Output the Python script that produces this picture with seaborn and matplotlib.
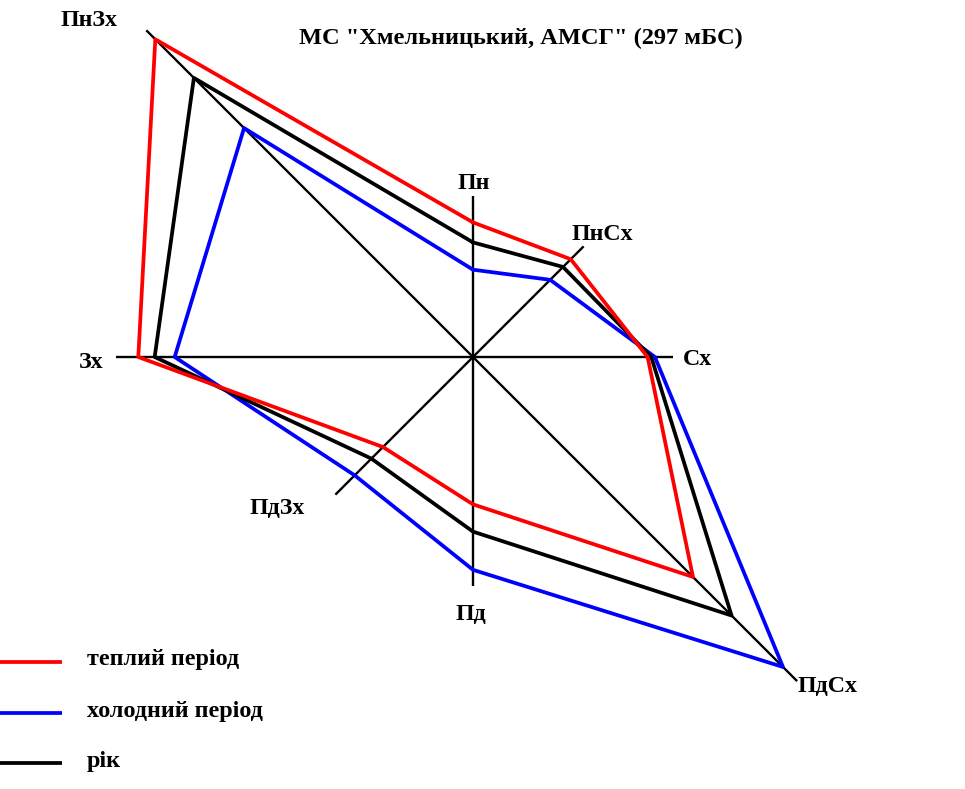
import numpy as np
import pandas as pd
import matplotlib.pyplot as plt
import seaborn as sns

# Wind rose data (% frequency by direction)
directions = ["Пн", "ПнСх", "Сх", "ПдСх", "Пд", "ПдЗх", "Зх", "ПнЗх"]
warm = [7.4, 7.6, 9.6, 17.1, 8.1, 7.0, 18.4, 24.7]
cold = [4.8, 6.0, 10.0, 24.1, 11.7, 9.2, 16.4, 17.8]
year = [6.3, 7.0, 9.8, 20.1, 9.6, 7.9, 17.5, 21.7]
series_names = ["теплий період", "холодний період", "рік"]
title = 'МС "Хмельницький, АМСГ" (297 мБС)'

# axis ray lengths (same units as the data)
axis_len = [8.85, 8.6, 11.0, 25.2, 12.6, 10.7, 19.6, 25.4]


def main():
    sns.set_theme(style="white")
    plt.rcParams['font.family'] = ['Liberation Serif', 'DejaVu Serif']
    plt.rcParams['font.weight'] = 'bold'

    W, H = 965, 789
    cx, cy = 473, 357      # rose centre, pixels
    scale = 18.19          # pixels per percent

    def px(x, y):
        return (x - cx) / scale, (cy - y) / scale

    fig = plt.figure(figsize=(W / 100, H / 100), dpi=100)
    ax = fig.add_axes([0, 0, 1, 1])
    ax.set_xlim(-cx / scale, (W - cx) / scale)
    ax.set_ylim(-(H - cy) / scale, cy / scale)
    ax.axis('off')

    angles = np.deg2rad(np.arange(0, 360, 45))

    # axes of the rose
    for ang, ln in zip(angles, axis_len):
        ax.plot([0, ln * np.sin(ang)], [0, ln * np.cos(ang)],
                color='black', lw=1.7, solid_capstyle='butt', zorder=1)

    # polygons
    rows = []
    for name, vals in zip(series_names, [warm, cold, year]):
        v = list(vals) + [vals[0]]
        a = list(angles) + [angles[0]]
        for i, (r, t) in enumerate(zip(v, a)):
            rows.append({'series': name, 'order': i,
                         'x': r * np.sin(t), 'y': r * np.cos(t)})
    df = pd.DataFrame(rows)
    colors = {'теплий період': '#ff0000', 'холодний період': '#0000ff', 'рік': '#000000'}
    for name in ['холодний період', 'рік', 'теплий період']:
        sub = df[df['series'] == name]
        sns.lineplot(data=sub, x='x', y='y', sort=False, estimator=None,
                     color=colors[name], lw=2.7, ax=ax, zorder=3)
    ax.set_xlabel('')
    ax.set_ylabel('')

    # direction labels
    label_px = {
        "Пн": (474, 183), "ПнСх": (602, 234), "Сх": (697, 359),
        "ПдСх": (828, 687), "Пд": (471, 614), "ПдЗх": (277, 509),
        "Зх": (91, 362), "ПнЗх": (89, 20),
    }
    for d in directions:
        x, y = px(*label_px[d])
        ax.text(x, y, d, ha='center', va='center', fontsize=17.2,
                fontweight='bold', color='black')

    tx, ty = px(521, 38)
    ax.text(tx, ty, title, ha='center', va='center', fontsize=17.6,
            fontweight='bold', color='black')

    # legend
    leg_y = [662, 713, 763]
    for name, ly in zip(series_names, leg_y):
        x0, y0 = px(0, ly)
        x1, _ = px(62, ly)
        ax.plot([x0, x1], [y0, y0], color=colors[name], lw=2.7,
                solid_capstyle='butt')
        lx, lyd = px(87, ly - 2)
        ax.text(lx, lyd, name, ha='left', va='center', fontsize=17.4,
                fontweight='bold', color='black')

    fig.savefig('out.png', dpi=100)


if __name__ == "__main__":
    main()
